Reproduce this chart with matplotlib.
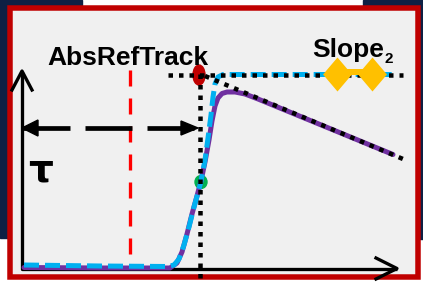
import numpy as np
import matplotlib
matplotlib.use("Agg")
import matplotlib.pyplot as plt
from matplotlib.patches import Rectangle, Ellipse, Polygon
from matplotlib.path import Path

plt.rcParams['lines.scale_dashes'] = False

# everything lives in picture coordinates (px), y grows downwards
W, H = 423, 282
PT = 0.72  # px -> pt at dpi 100

# saturating curve (cyan, dashed) and the sagging response (purple)
cyan_x = [24, 100, 168, 174, 179, 184, 189, 194, 198, 201, 205, 208, 211, 213, 215, 218, 223, 395]
cyan_y = [265, 266, 266.5, 265, 259, 245, 227, 207, 193, 181, 160, 138, 115, 97, 84, 77, 74.5, 74.5]
purple_x = [24, 100, 170, 177, 182, 187, 192, 197, 201, 205, 209, 212, 215, 218, 222, 227, 235, 245, 258, 393]
purple_y = [267.5, 268, 268, 263, 252, 234, 214, 196, 181, 162, 140, 121, 106, 98, 93.5, 92, 92, 94, 99, 154.5]

# guide lines
slope_x = [205, 403]
slope_y = [76, 159]
sat_y = 74.5
sat_x = [168, 403]
onset_x = 200
onset_y = [74, 279]
ref_x = 130
ref_y = [70, 268]
span_x = [23, 197]
span_y = 128

# markers
slope_pts_x = [337, 372]
slope_pts_y = [74, 74]
half_pt = (201, 182)
top_pt = (199, 75)

fig = plt.figure(figsize=(W / 100, H / 100), dpi=100)
ax = fig.add_axes([0, 0, 1, 1])
ax.set_xlim(0, W)
ax.set_ylim(H, 0)
ax.axis('off')

# backdrop: dark slide edges, white strip on top
navy = '#0e2044'
ax.add_patch(Rectangle((0, 0), W, H, color='white', zorder=0))
ax.add_patch(Rectangle((0, 0), 82, 8, color=navy, zorder=0))
ax.add_patch(Rectangle((363, 0), W - 363, 8, color=navy, zorder=0))
ax.add_patch(Rectangle((0, 0), 9, 238, color=navy, zorder=0))
ax.add_patch(Rectangle((416, 0), 7, 239, color=navy, zorder=0))

# red frame
ax.add_patch(Rectangle((10, 7.5), 408, 269.5, facecolor='#f0f0f0',
                       edgecolor='#c00000', lw=5.5 * PT, zorder=1))

# axes with open arrow heads
axc = 'black'
ax.plot([22, 22, 397], [72, 268.5, 268.5], color=axc, lw=3.3 * PT,
        solid_capstyle='butt', zorder=2)
ax.plot([12, 22, 32], [90, 71, 90], color=axc, lw=3.3 * PT, zorder=2)
ax.plot([376, 397, 376], [258, 268.5, 279], color=axc, lw=3.3 * PT, zorder=2)

# reference track position
ax.plot([ref_x, ref_x], ref_y, color='#ff0000', lw=3.3 * PT,
        dashes=(16 * PT, 12 * PT), zorder=3)

# tau span arrow
ax.plot(span_x, [span_y, span_y], color='black', lw=4.7 * PT,
        dashes=(47 * PT, 15 * PT), zorder=3)
ax.add_patch(Polygon([[22, span_y], [38, span_y - 8], [38, span_y + 8]],
                     color='black', zorder=3))
ax.add_patch(Polygon([[198, span_y], [181, span_y - 7], [181, span_y + 7]],
                     color='black', zorder=3))

# curves
ax.add_patch(Ellipse(half_pt, 12, 13, color='#00b050', zorder=4))
ax.plot(purple_x, purple_y, color='#7030a0', lw=5 * PT, zorder=4,
        solid_capstyle='round', solid_joinstyle='round')
ax.plot(cyan_x, cyan_y, color='#00b0f0', lw=5 * PT, zorder=5,
        dashes=(15 * PT, 6 * PT), dash_joinstyle='round')

# dotted guides
ax.add_patch(Ellipse(top_pt, 12, 20, color='#c00000', zorder=6))
dots = dict(color='black', lw=4.5 * PT, dashes=(4.5 * PT, 6 * PT), zorder=7)
ax.plot(sat_x, [sat_y, sat_y], **dots)
ax.plot([onset_x, onset_x], onset_y, **dots)
ax.plot(slope_x, slope_y, **dots)

# slope markers (slightly tall diamonds)
tall_diamond = Path([(0, 1), (0.85, 0), (0, -1), (-0.85, 0), (0, 1)],
                    [Path.MOVETO, Path.LINETO, Path.LINETO, Path.LINETO,
                     Path.CLOSEPOLY])
ax.plot(slope_pts_x, [y - 2 for y in slope_pts_y], color='#ffc000',
        lw=6 * PT, zorder=8)
ax.plot(slope_pts_x, slope_pts_y, marker=tall_diamond, ls='none',
        color='#ffc000', ms=34 * PT, mew=0, zorder=8)

# labels
ax.text(47, 65, 'AbsRefTrack', fontsize=19, fontweight='bold',
        family='Liberation Sans', va='baseline', ha='left', zorder=9)
slope_t = ax.text(312, 57, 'Slope', fontsize=19, fontweight='bold',
                  family='Liberation Sans', va='baseline', ha='left', zorder=9)
fig.canvas.draw()
bb = slope_t.get_window_extent()
x_end = ax.transData.inverted().transform((bb.x1, bb.y0))[0]
ax.text(x_end + 1, 63, '2', fontsize=11, fontweight='bold',
        family='Liberation Sans', va='baseline', ha='left', zorder=9)
ax.text(28, 182, '\u03c4', fontsize=28, fontweight='bold',
        family='DejaVu Sans', va='baseline', ha='left', zorder=9)

fig.savefig('out.png', dpi=100)
